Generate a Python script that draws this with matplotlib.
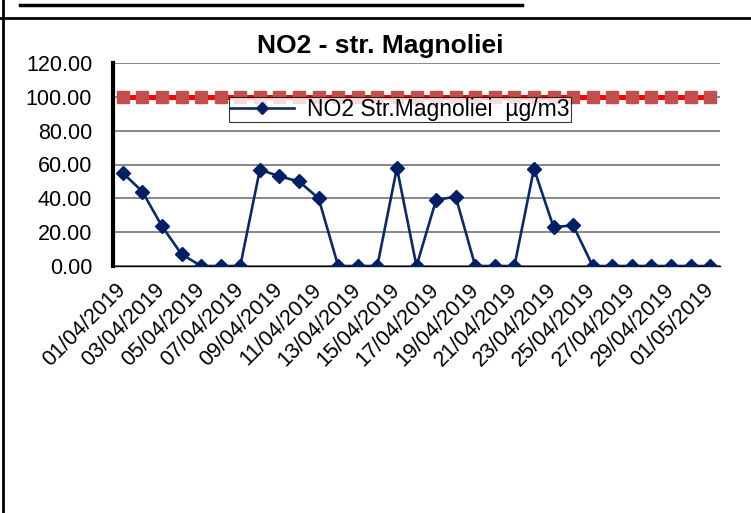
import numpy as np
import matplotlib.pyplot as plt
import matplotlib.lines as mlines

plt.rcParams['font.family'] = ['Liberation Sans', 'DejaVu Sans']

# daily values, 01/04/2019 .. 01/05/2019
dates = ['%02d/04/2019' % d for d in range(1, 31)] + ['01/05/2019']
no2 = [55, 44, 23.5, 7, 0, 0, 0, 57, 53, 50, 40, 0, 0, 0, 58, 0, 39, 41,
       0, 0, 0, 57.5, 23, 24, 0, 0, 0, 0, 0, 0, 0]
limit = [100] * 31
yticks = [0, 20, 40, 60, 80, 100, 120]

W, H = 751, 513
fig = plt.figure(figsize=(W / 100, H / 100), dpi=100)

# axes box in pixels
x0, x1, ytop, ybot = 113, 720, 63, 266
ax = fig.add_axes([x0 / W, 1 - ybot / H, (x1 - x0) / W, (ybot - ytop) / H])

x = np.arange(len(dates))
ax.set_xlim(-0.5, len(dates) - 0.5)
ax.set_ylim(0, 120)
ax.set_yticks(yticks)
ax.set_yticklabels(['%.2f' % v for v in yticks], fontsize=15.5)
ax.yaxis.grid(True, color='#7f7f7f', linewidth=1.3)
ax.set_axisbelow(True)

ax.plot(x, limit, color='#ff0000', linewidth=3.6, marker='s', markersize=8,
        markerfacecolor='#c0504d', markeredgecolor='#c0504d', zorder=3)
ax.plot(x, no2, color='#0d2a63', linewidth=1.9, marker='D', markersize=7.5,
        markerfacecolor='#002060', markeredgecolor='#001a70', zorder=4)

ax.set_xticks(x[::2])
ax.set_xticklabels(dates[::2], rotation=45, ha='right', va='center',
                   rotation_mode='anchor', fontsize=15.5)
ax.tick_params(axis='both', length=0)
ax.tick_params(axis='y', pad=15)
ax.tick_params(axis='x', pad=15)

for s in ['top', 'right']:
    ax.spines[s].set_visible(False)
ax.spines['left'].set_linewidth(3)
ax.spines['bottom'].set_linewidth(1)

# legend box (only the NO2 series)
h = mlines.Line2D([], [], color='#0d2a63', linewidth=1.9, marker='D', markersize=6,
                  markerfacecolor='#002060')
leg = fig.legend([h], ['NO2 Str.Magnoliei  \u00b5g/m3'], loc='upper left',
                 bbox_to_anchor=(229 / W, 1 - 97 / H), frameon=True, fancybox=False,
                 fontsize=16.5, handlelength=2.8, borderpad=0.05, handletextpad=0.55,
                 borderaxespad=0)
leg.get_frame().set_edgecolor('black')
leg.get_frame().set_linewidth(0.8)

fig.text(380 / W, 1 - 46 / H, 'NO2 - str. Magnoliei', fontsize=19, fontweight='bold',
         ha='center', va='center')

# table borders from the surrounding document
fig.add_artist(mlines.Line2D([3 / W, 3 / W], [0, 1], color='black', linewidth=2))
fig.add_artist(mlines.Line2D([0, 1], [1 - 18 / H, 1 - 18 / H], color='black', linewidth=2))
fig.add_artist(mlines.Line2D([20 / W, 522 / W], [1 - 5 / H, 1 - 5 / H], color='black', linewidth=2.5))

fig.savefig('out.png', dpi=100)
